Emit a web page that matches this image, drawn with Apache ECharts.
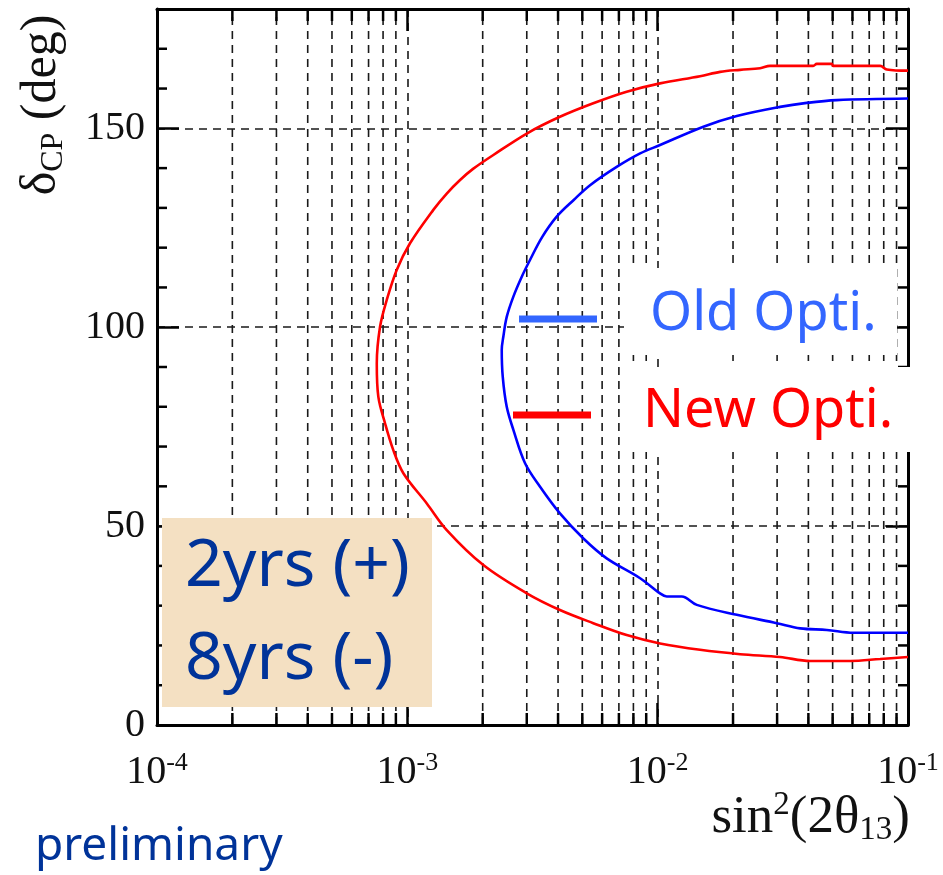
<!DOCTYPE html>
<html>
<head>
<meta charset="utf-8">
<script src="https://cdn.jsdelivr.net/npm/echarts@6/dist/echarts.min.js"></script>
<style>
  html, body { margin: 0; padding: 0; background: #fff; }
  #chart { width: 943px; height: 875px; }
</style>
</head>
<body>
<div id="chart"></div>
<script>
// Sensitivity contours in the (sin^2(2θ13), δCP) plane
const xTickExponents = [-4, -3, -2, -1];
const yTickLabels = [0, 50, 100, 150];

// New optimisation (red contour), traced from top-right round to bottom-right
const newOptiX = [0.1, 0.0823, 0.0774, 0.0502, 0.0496, 0.0432, 0.0418, 0.0281, 0.02566, 0.02135, 0.01776, 0.01477,
  0.01022, 0.00752, 0.00553, 0.00407, 0.00300, 0.002206, 0.001830, 0.001624, 0.001437, 0.001270, 0.001025, 0.000907, 0.000827,
  0.000778, 0.000755, 0.000766, 0.000815, 0.000879, 0.000964, 0.001196, 0.001437, 0.002012, 0.00300,
  0.00407, 0.00553, 0.00752, 0.01022, 0.01477, 0.02135, 0.03083, 0.0406, 0.0587, 0.0774, 0.1];
const newOptiY = [164.5, 164.8, 165.7, 165.7, 166.2, 166.2, 165.7, 165.7, 165.1, 164.7, 164.2, 163.1,
  161.3, 159.2, 156.3, 152.9, 148.7, 143.3, 139.8, 137.0, 133.6, 129.5, 121.1, 114.4, 106.8,
  100.1, 90.9, 82.5, 75.8, 69.1, 63.3, 55.7, 49.0, 40.2, 33.1,
  28.9, 25.6, 22.6, 20.5, 18.9, 17.8, 17.1, 16.1, 16.1, 16.6, 17.1];

// Old optimisation (blue contour)
const oldOptiX = [0.1, 0.0519, 0.0394, 0.03083, 0.0207, 0.01523, 0.01022, 0.00851, 0.00686, 0.00537, 0.00462, 0.00395,
  0.00345, 0.00309, 0.002865, 0.002652, 0.002495, 0.002418, 0.002383, 0.002405, 0.002495, 0.002652, 0.002953,
  0.003390, 0.00407, 0.005050, 0.006258, 0.00851, 0.01022, 0.01087, 0.01248, 0.01433, 0.0207, 0.0299,
  0.0371, 0.0474, 0.0605, 0.1];
const oldOptiY = [157.5, 157.1, 156.4, 155.4, 153.1, 150.4, 145.8, 143.7, 140.3, 135.7, 132.0, 127.8,
  122.6, 116.9, 112.7, 107.7, 102.6, 97.6, 94.3, 87.6, 80.0, 74.2, 65.8,
  59.9, 53.2, 46.9, 41.9, 36.9, 33.1, 32.3, 32.3, 30.2, 27.7, 25.6,
  24.3, 23.9, 23.2, 23.2];

const X_MIN = 1e-4, X_MAX = 0.1, Y_MIN = 0, Y_MAX = 180;

// minor tick positions of the log axis (2..9 in each decade)
const xMinor = [];
for (let e = -4; e <= -2; e++) {
  for (let m = 2; m <= 9; m++) xMinor.push([m * Math.pow(10, e)]);
}
// minor ticks of the angle axis every 10 degrees
const yMinor = [];
for (let v = 10; v < Y_MAX; v += 10) {
  if (v % 50 !== 0) yMinor.push([v]);
}

const pairs = (xs, ys) => xs.map((x, i) => [x, ys[i]]);

const serif = "'Liberation Serif', 'Times New Roman', serif";
const handFont = "'Noto Sans', sans-serif";
const frame = '#000';
const dash = { color: '#1a1a1a', width: 1.6, type: [8, 6] };

const chart = echarts.init(document.getElementById('chart'), null, { renderer: 'canvas' });

const supExp = (v) => {
  const e = Math.round(Math.log10(v));
  return xTickExponents.indexOf(e) >= 0 ? '{b|10}{s|' + e + '}' : '';
};

chart.setOption({
  animation: false,
  backgroundColor: '#fff',
  grid: { left: 157, right: 35, top: 9, bottom: 150, containLabel: false },
  xAxis: [
    {
      type: 'log', logBase: 10, min: X_MIN, max: X_MAX, position: 'bottom',
      axisLine: { show: true, onZero: false, lineStyle: { color: frame, width: 3 } },
      axisTick: { show: true, inside: true, length: 22, lineStyle: { color: frame, width: 2.5 } },
      axisLabel: {
        margin: 25, formatter: supExp, showMinLabel: true, showMaxLabel: true,
        rich: {
          b: { fontFamily: serif, fontSize: 40, lineHeight: 44, color: '#111' },
          s: { fontFamily: serif, fontSize: 26, lineHeight: 22, verticalAlign: 'top', color: '#111' }
        }
      },
      splitLine: { show: true, lineStyle: dash },
      minorTick: { show: false }
    },
    {
      type: 'log', logBase: 10, min: X_MIN, max: X_MAX, position: 'top',
      axisLine: { show: true, onZero: false, lineStyle: { color: frame, width: 3 } },
      axisTick: { show: true, inside: true, length: 22, lineStyle: { color: frame, width: 2.5 } },
      axisLabel: { show: false },
      splitLine: { show: false }
    }
  ],
  yAxis: [
    {
      type: 'value', min: Y_MIN, max: Y_MAX, interval: 50, position: 'left',
      axisLine: { show: true, onZero: false, lineStyle: { color: frame, width: 3 } },
      axisTick: { show: true, inside: true, length: 22, lineStyle: { color: frame, width: 2.5 } },
      axisLabel: {
        margin: 12, fontFamily: serif, fontSize: 40, color: '#111', showMaxLabel: false,
        formatter: (v) => (yTickLabels.indexOf(v) >= 0 ? String(v) : '')
      },
      splitLine: { show: true, lineStyle: dash }
    },
    {
      type: 'value', min: Y_MIN, max: Y_MAX, interval: 50, position: 'right',
      axisLine: { show: true, onZero: false, lineStyle: { color: frame, width: 3 } },
      axisTick: { show: true, inside: true, length: 22, lineStyle: { color: frame, width: 2.5 } },
      axisLabel: { show: false },
      splitLine: { show: false }
    }
  ],
  series: [
    {
      // minor grid lines and ticks on the log axis (bottom and top)
      type: 'custom', xAxisIndex: 0, yAxisIndex: 0, z: 1, silent: true,
      data: xMinor,
      renderItem: (params, api) => {
        const x = api.value(0);
        const b = api.coord([x, Y_MIN]);
        const t = api.coord([x, Y_MAX]);
        return {
          type: 'group',
          children: [
            { type: 'line', shape: { x1: b[0], y1: b[1], x2: t[0], y2: t[1] }, style: { stroke: dash.color, lineWidth: dash.width, lineDash: dash.type } },
            { type: 'line', shape: { x1: b[0], y1: b[1], x2: b[0], y2: b[1] - 12 }, style: { stroke: frame, lineWidth: 2.5 } },
            { type: 'line', shape: { x1: t[0], y1: t[1], x2: t[0], y2: t[1] + 12 }, style: { stroke: frame, lineWidth: 2.5 } }
          ]
        };
      }
    },
    {
      // minor ticks on the angle axis (left and right)
      type: 'custom', xAxisIndex: 0, yAxisIndex: 0, z: 1, silent: true,
      data: yMinor,
      renderItem: (params, api) => {
        const v = api.value(0);
        const l = api.coord([X_MIN, v]);
        const r = api.coord([X_MAX, v]);
        return {
          type: 'group',
          children: [
            { type: 'line', shape: { x1: l[0], y1: l[1], x2: l[0] + 10, y2: l[1] }, style: { stroke: frame, lineWidth: 2.5 } },
            { type: 'line', shape: { x1: r[0], y1: r[1], x2: r[0] - 10, y2: r[1] }, style: { stroke: frame, lineWidth: 2.5 } }
          ]
        };
      }
    },
    {
      name: 'New Opti.', type: 'line', xAxisIndex: 0, yAxisIndex: 0, z: 5,
      data: pairs(newOptiX, newOptiY), showSymbol: false, smooth: 0.35,
      lineStyle: { color: '#ff0000', width: 2.6 }
    },
    {
      name: 'Old Opti.', type: 'line', xAxisIndex: 0, yAxisIndex: 0, z: 5,
      data: pairs(oldOptiX, oldOptiY), showSymbol: false, smooth: 0.35,
      lineStyle: { color: '#0000ff', width: 2.6 }
    }
  ],
  graphic: [
    // legend panels
    { type: 'rect', z: 100, shape: { x: 624, y: 268, width: 273, height: 87 }, style: { fill: '#fff' } },
    { type: 'rect', z: 100, shape: { x: 625, y: 367, width: 290, height: 85 }, style: { fill: '#fff' } },
    { type: 'line', z: 101, shape: { x1: 519, y1: 319, x2: 597, y2: 319 }, style: { stroke: '#3366ff', lineWidth: 7 } },
    { type: 'line', z: 101, shape: { x1: 513, y1: 415, x2: 591, y2: 415 }, style: { stroke: '#ff0000', lineWidth: 7 } },
    { type: 'text', z: 101, x: 650, y: 315, style: { text: 'Old Opti.', font: '54px ' + handFont, fill: '#3366ff', align: 'left', verticalAlign: 'middle' } },
    { type: 'text', z: 101, x: 643, y: 412, style: { text: 'New Opti.', font: '54px ' + handFont, fill: '#ff0000', align: 'left', verticalAlign: 'middle' } },
    // exposure note
    { type: 'rect', z: 100, shape: { x: 162, y: 518, width: 270, height: 189 }, style: { fill: '#f4e0c2' } },
    { type: 'text', z: 101, x: 185, y: 567, style: { text: '2yrs (+)', font: '66px ' + handFont, fill: '#003399', align: 'left', verticalAlign: 'middle' } },
    { type: 'text', z: 101, x: 185, y: 660, style: { text: '8yrs (-)', font: '66px ' + handFont, fill: '#003399', align: 'left', verticalAlign: 'middle' } },
    { type: 'text', z: 101, x: 35, y: 847, style: { text: 'preliminary', font: '46px ' + handFont, fill: '#003399', align: 'left', verticalAlign: 'middle' } },
    // axis titles
    {
      type: 'text', z: 101, x: 910, y: 818,
      style: {
        text: '{m|sin}{sup|2}{m|(2θ}{sub|13}{m|)}', align: 'right', verticalAlign: 'middle', fill: '#111',
        rich: {
          m: { fontFamily: serif, fontSize: 53, lineHeight: 58, fill: '#111' },
          sup: { fontFamily: serif, fontSize: 33, lineHeight: 30, verticalAlign: 'top', fill: '#111' },
          sub: { fontFamily: serif, fontSize: 33, lineHeight: 30, verticalAlign: 'bottom', fill: '#111' }
        }
      }
    },
    {
      type: 'text', z: 101, x: 42, y: 105, rotation: Math.PI / 2,
      style: {
        text: '{m|δ}{sub|CP}{m| (deg)}', align: 'center', verticalAlign: 'middle', fill: '#111',
        rich: {
          m: { fontFamily: serif, fontSize: 50, lineHeight: 56, fill: '#111' },
          sub: { fontFamily: serif, fontSize: 32, lineHeight: 32, verticalAlign: 'bottom', fill: '#111' }
        }
      }
    }
  ]
});
</script>
</body>
</html>
